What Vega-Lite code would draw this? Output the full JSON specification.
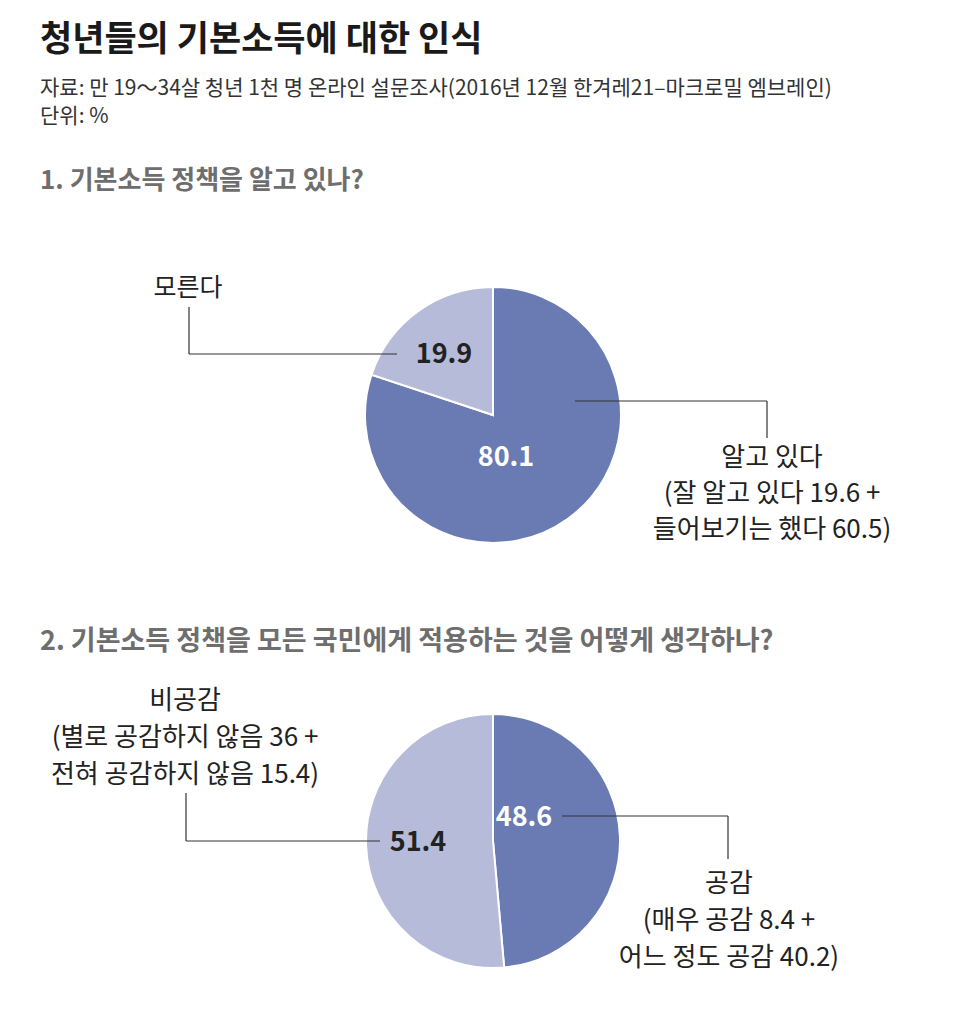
{
  "$schema": "https://vega.github.io/schema/vega-lite/v6.json",
  "background": "white",
  "padding": {"left": 40, "top": 23, "right": 24, "bottom": 9},
  "title": {
    "text": "청년들의 기본소득에 대한 인식",
    "subtitle": ["자료: 만 19～34살 청년 1천 명 온라인 설문조사(2016년 12월 한겨레21–마크로밀 엠브레인)", "단위: %"],
    "anchor": "start",
    "font": "Noto Sans CJK KR",
    "fontSize": 35,
    "fontWeight": "bold",
    "color": "#1a1a1a",
    "subtitleFont": "Noto Sans CJK KR",
    "subtitleFontSize": 21,
    "subtitleColor": "#333333",
    "subtitlePadding": 20,
    "subtitleLineHeight": 28,
    "offset": 41
  },
  "config": {
    "view": {"stroke": null},
    "font": "Noto Sans CJK KR",
    "title": {"anchor": "start", "font": "Noto Sans CJK KR", "fontWeight": "bold", "color": "#6e6e6e"},
    "text": {"font": "Noto Sans CJK KR", "fontSize": 26, "color": "#222222", "align": "center", "baseline": "middle", "lineHeight": 37},
    "rule": {"color": "#333333", "strokeWidth": 1.2}
  },
  "spacing": 33,
  "resolve": {"scale": {"color": "independent"}},
  "vconcat": [
    {
      "width": 906,
      "height": 360,
      "title": {"text": "1. 기본소득 정책을 알고 있나?", "fontSize": 26, "offset": 41},
      "data": {"values": [
        {"answer": "알고 있다", "pct": 80.1, "idx": 1, "label": "알고 있다\n(잘 알고 있다 19.6 +\n들어보기는 했다 60.5)"},
        {"answer": "모른다", "pct": 19.9, "idx": 2, "label": "모른다"}
      ]},
      "layer": [
        {
          "mark": {"type": "arc", "outerRadius": 128, "stroke": "white", "strokeWidth": 2},
          "encoding": {
            "theta": {"field": "pct", "type": "quantitative", "stack": true},
            "color": {"field": "answer", "type": "nominal", "scale": {"domain": ["알고 있다", "모른다"], "range": ["#6a7bb4", "#b5bbd9"]}, "legend": null},
            "order": {"field": "idx", "type": "quantitative"}
          }
        },
        {
          "transform": [{"filter": "datum.answer === '모른다'"}],
          "mark": {"type": "text", "fontSize": 27, "fontWeight": "bold", "color": "#222222"},
          "encoding": {
            "x": {"datum": -49, "type": "quantitative", "scale": {"domain": [-453, 453], "nice": false}, "axis": null},
            "y": {"datum": 60, "type": "quantitative", "scale": {"domain": [-180, 180], "nice": false}, "axis": null},
            "text": {"field": "pct", "type": "quantitative", "format": ".1f"}
          }
        },
        {
          "transform": [{"filter": "datum.answer === '알고 있다'"}],
          "mark": {"type": "text", "fontSize": 27, "fontWeight": "bold", "color": "white"},
          "encoding": {
            "x": {"datum": 13, "type": "quantitative", "scale": {"domain": [-453, 453], "nice": false}, "axis": null},
            "y": {"datum": -43, "type": "quantitative", "scale": {"domain": [-180, 180], "nice": false}, "axis": null},
            "text": {"field": "pct", "type": "quantitative", "format": ".1f"}
          }
        },
        {
          "transform": [{"filter": "datum.answer === '모른다'"}],
          "mark": {"type": "rule"},
          "encoding": {
            "x": {"datum": -304, "type": "quantitative", "scale": {"domain": [-453, 453], "nice": false}, "axis": null},
            "x2": {"datum": -96},
            "y": {"datum": 61, "type": "quantitative", "scale": {"domain": [-180, 180], "nice": false}, "axis": null}
          }
        },
        {
          "transform": [{"filter": "datum.answer === '모른다'"}],
          "mark": {"type": "rule"},
          "encoding": {
            "x": {"datum": -304, "type": "quantitative", "scale": {"domain": [-453, 453], "nice": false}, "axis": null},
            "y": {"datum": 61, "type": "quantitative", "scale": {"domain": [-180, 180], "nice": false}, "axis": null},
            "y2": {"datum": 108}
          }
        },
        {
          "transform": [{"filter": "datum.answer === '모른다'"}],
          "mark": {"type": "text", "fontSize": 25},
          "encoding": {
            "x": {"datum": -305, "type": "quantitative", "scale": {"domain": [-453, 453], "nice": false}, "axis": null},
            "y": {"datum": 127, "type": "quantitative", "scale": {"domain": [-180, 180], "nice": false}, "axis": null},
            "text": {"field": "label", "type": "nominal"}
          }
        },
        {
          "transform": [{"filter": "datum.answer === '알고 있다'"}],
          "mark": {"type": "rule"},
          "encoding": {
            "x": {"datum": 82, "type": "quantitative", "scale": {"domain": [-453, 453], "nice": false}, "axis": null},
            "x2": {"datum": 274},
            "y": {"datum": 14, "type": "quantitative", "scale": {"domain": [-180, 180], "nice": false}, "axis": null}
          }
        },
        {
          "transform": [{"filter": "datum.answer === '알고 있다'"}],
          "mark": {"type": "rule"},
          "encoding": {
            "x": {"datum": 274, "type": "quantitative", "scale": {"domain": [-453, 453], "nice": false}, "axis": null},
            "y": {"datum": 14, "type": "quantitative", "scale": {"domain": [-180, 180], "nice": false}, "axis": null},
            "y2": {"datum": -23}
          }
        },
        {
          "transform": [{"filter": "datum.answer === '알고 있다'"}],
          "mark": {"type": "text", "lineBreak": "\n", "lineHeight": 36},
          "encoding": {
            "x": {"datum": 279, "type": "quantitative", "scale": {"domain": [-453, 453], "nice": false}, "axis": null},
            "y": {"datum": -43, "type": "quantitative", "scale": {"domain": [-180, 180], "nice": false}, "axis": null},
            "text": {"field": "label", "type": "nominal"}
          }
        }
      ]
    },
    {
      "width": 906,
      "height": 330,
      "title": {"text": "2. 기본소득 정책을 모든 국민에게 적용하는 것을 어떻게 생각하나?", "fontSize": 27, "offset": 20},
      "data": {"values": [
        {"answer": "공감", "pct": 48.6, "idx": 1, "label": "공감\n(매우 공감 8.4 +\n어느 정도 공감 40.2)"},
        {"answer": "비공감", "pct": 51.4, "idx": 2, "label": "비공감\n(별로 공감하지 않음 36 +\n전혀 공감하지 않음 15.4)"}
      ]},
      "layer": [
        {
          "mark": {"type": "arc", "outerRadius": 127, "stroke": "white", "strokeWidth": 2},
          "encoding": {
            "theta": {"field": "pct", "type": "quantitative", "stack": true},
            "color": {"field": "answer", "type": "nominal", "scale": {"domain": ["공감", "비공감"], "range": ["#6a7bb4", "#b5bbd9"]}, "legend": null},
            "order": {"field": "idx", "type": "quantitative"}
          }
        },
        {
          "transform": [{"filter": "datum.answer === '공감'"}],
          "mark": {"type": "text", "fontSize": 27, "fontWeight": "bold", "color": "white"},
          "encoding": {
            "x": {"datum": 31, "type": "quantitative", "scale": {"domain": [-453, 453], "nice": false}, "axis": null},
            "y": {"datum": 23, "type": "quantitative", "scale": {"domain": [-165, 165], "nice": false}, "axis": null},
            "text": {"field": "pct", "type": "quantitative", "format": ".1f"}
          }
        },
        {
          "transform": [{"filter": "datum.answer === '비공감'"}],
          "mark": {"type": "text", "fontSize": 27, "fontWeight": "bold", "color": "#222222"},
          "encoding": {
            "x": {"datum": -75, "type": "quantitative", "scale": {"domain": [-453, 453], "nice": false}, "axis": null},
            "y": {"datum": -2, "type": "quantitative", "scale": {"domain": [-165, 165], "nice": false}, "axis": null},
            "text": {"field": "pct", "type": "quantitative", "format": ".1f"}
          }
        },
        {
          "transform": [{"filter": "datum.answer === '공감'"}],
          "mark": {"type": "rule"},
          "encoding": {
            "x": {"datum": 69, "type": "quantitative", "scale": {"domain": [-453, 453], "nice": false}, "axis": null},
            "x2": {"datum": 235},
            "y": {"datum": 25, "type": "quantitative", "scale": {"domain": [-165, 165], "nice": false}, "axis": null}
          }
        },
        {
          "transform": [{"filter": "datum.answer === '공감'"}],
          "mark": {"type": "rule"},
          "encoding": {
            "x": {"datum": 235, "type": "quantitative", "scale": {"domain": [-453, 453], "nice": false}, "axis": null},
            "y": {"datum": 25, "type": "quantitative", "scale": {"domain": [-165, 165], "nice": false}, "axis": null},
            "y2": {"datum": -18}
          }
        },
        {
          "transform": [{"filter": "datum.answer === '공감'"}],
          "mark": {"type": "text", "lineBreak": "\n"},
          "encoding": {
            "x": {"datum": 236, "type": "quantitative", "scale": {"domain": [-453, 453], "nice": false}, "axis": null},
            "y": {"datum": -43, "type": "quantitative", "scale": {"domain": [-165, 165], "nice": false}, "axis": null},
            "text": {"field": "label", "type": "nominal"}
          }
        },
        {
          "transform": [{"filter": "datum.answer === '비공감'"}],
          "mark": {"type": "rule"},
          "encoding": {
            "x": {"datum": -307, "type": "quantitative", "scale": {"domain": [-453, 453], "nice": false}, "axis": null},
            "x2": {"datum": -113},
            "y": {"datum": 0, "type": "quantitative", "scale": {"domain": [-165, 165], "nice": false}, "axis": null}
          }
        },
        {
          "transform": [{"filter": "datum.answer === '비공감'"}],
          "mark": {"type": "rule"},
          "encoding": {
            "x": {"datum": -307, "type": "quantitative", "scale": {"domain": [-453, 453], "nice": false}, "axis": null},
            "y": {"datum": 0, "type": "quantitative", "scale": {"domain": [-165, 165], "nice": false}, "axis": null},
            "y2": {"datum": 48}
          }
        },
        {
          "transform": [{"filter": "datum.answer === '비공감'"}],
          "mark": {"type": "text", "lineBreak": "\n"},
          "encoding": {
            "x": {"datum": -308, "type": "quantitative", "scale": {"domain": [-453, 453], "nice": false}, "axis": null},
            "y": {"datum": 140, "type": "quantitative", "scale": {"domain": [-165, 165], "nice": false}, "axis": null},
            "text": {"field": "label", "type": "nominal"}
          }
        }
      ]
    }
  ]
}
